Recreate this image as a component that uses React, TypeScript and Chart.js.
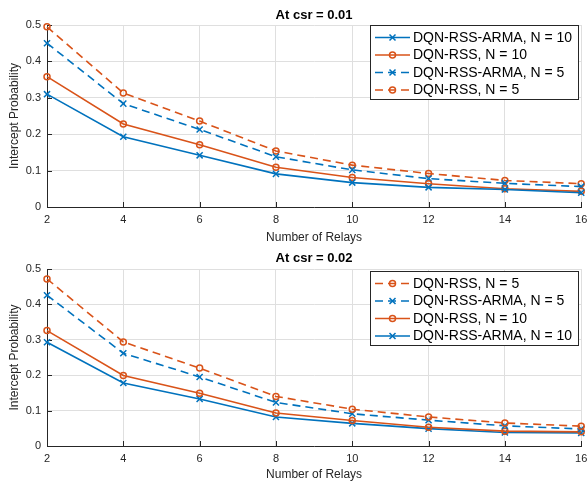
import React, { useEffect, useRef } from 'react';
import { Chart, registerables } from 'chart.js';
Chart.register(...registerables);

const relays = [2, 4, 6, 8, 10, 12, 14, 16];
const yTicks = [0, 0.1, 0.2, 0.3, 0.4, 0.5];

const topTitle = 'At csr = 0.01';
const top_armaN10 = [0.310, 0.193, 0.142, 0.091, 0.067, 0.054, 0.048, 0.039];
const top_rssN10 = [0.358, 0.228, 0.171, 0.109, 0.081, 0.064, 0.050, 0.043];
const top_armaN5 = [0.450, 0.284, 0.213, 0.138, 0.102, 0.078, 0.065, 0.056];
const top_rssN5 = [0.495, 0.313, 0.236, 0.154, 0.115, 0.092, 0.073, 0.064];

const botTitle = 'At csr = 0.02';
const bot_rssN5 = [0.472, 0.294, 0.220, 0.140, 0.104, 0.082, 0.065, 0.056];
const bot_armaN5 = [0.426, 0.262, 0.195, 0.123, 0.091, 0.073, 0.057, 0.048];
const bot_rssN10 = [0.326, 0.199, 0.149, 0.093, 0.072, 0.053, 0.042, 0.040];
const bot_armaN10 = [0.293, 0.178, 0.133, 0.082, 0.064, 0.049, 0.038, 0.037];

const xLabel = 'Number of Relays';
const yLabel = 'Intercept Probability';

const BLUE = '#0072BD';
const ORANGE = '#D95319';
const AXIS = '#262626';
const GRID = '#dfdfdf';
const FAMILY = '"Liberation Sans", Arial, Helvetica, sans-serif';

type Series = { label: string; values: number[]; color: string; dashed: boolean; marker: 'o' | 'x' };

const topSeries: Series[] = [
  { label: 'DQN-RSS-ARMA, N = 10', values: top_armaN10, color: BLUE, dashed: false, marker: 'x' },
  { label: 'DQN-RSS, N = 10', values: top_rssN10, color: ORANGE, dashed: false, marker: 'o' },
  { label: 'DQN-RSS-ARMA, N = 5', values: top_armaN5, color: BLUE, dashed: true, marker: 'x' },
  { label: 'DQN-RSS, N = 5', values: top_rssN5, color: ORANGE, dashed: true, marker: 'o' },
];

const botSeries: Series[] = [
  { label: 'DQN-RSS, N = 5', values: bot_rssN5, color: ORANGE, dashed: true, marker: 'o' },
  { label: 'DQN-RSS-ARMA, N = 5', values: bot_armaN5, color: BLUE, dashed: true, marker: 'x' },
  { label: 'DQN-RSS, N = 10', values: bot_rssN10, color: ORANGE, dashed: false, marker: 'o' },
  { label: 'DQN-RSS-ARMA, N = 10', values: bot_armaN10, color: BLUE, dashed: false, marker: 'x' },
];

const DASH = [8, 5];

function drawMarker(ctx: CanvasRenderingContext2D, kind: 'o' | 'x', x: number, y: number, color: string) {
  ctx.save();
  ctx.setLineDash([]);
  ctx.strokeStyle = color;
  ctx.lineWidth = 1.5;
  ctx.beginPath();
  if (kind === 'o') {
    ctx.arc(x, y, 3, 0, Math.PI * 2);
  } else {
    const d = 3;
    ctx.moveTo(x - d, y - d);
    ctx.lineTo(x + d, y + d);
    ctx.moveTo(x - d, y + d);
    ctx.lineTo(x + d, y - d);
  }
  ctx.stroke();
  ctx.restore();
}

type PanelProps = {
  height: number;
  chartTop: number;
  xAxisH: number;
  titleY: number;
  title: string;
  series: Series[];
  legendOffset: number;
};

function Panel({ height, chartTop, xAxisH, titleY, title, series, legendOffset }: PanelProps) {
  const ref = useRef<HTMLCanvasElement>(null);
  useEffect(() => {
    const canvas = ref.current!;
    const decor = {
      id: 'matlabDecor',
      beforeDatasetsDraw(chart: any) {
        const { ctx, chartArea } = chart;
        const xs = chart.scales.x;
        const ys = chart.scales.y;
        ctx.save();
        ctx.strokeStyle = AXIS;
        ctx.lineWidth = 1;
        ctx.beginPath();
        relays.forEach((v) => {
          const px = Math.round(xs.getPixelForValue(v)) + 0.5;
          ctx.moveTo(px, chartArea.bottom);
          ctx.lineTo(px, chartArea.bottom - 5);
        });
        yTicks.forEach((v) => {
          const py = Math.round(ys.getPixelForValue(v)) + 0.5;
          ctx.moveTo(chartArea.left, py);
          ctx.lineTo(chartArea.left + 5, py);
        });
        ctx.stroke();
        ctx.restore();
      },
      afterDraw(chart: any) {
        const { ctx, chartArea } = chart;
        ctx.save();
        // title
        ctx.fillStyle = '#000';
        ctx.font = `bold 13px ${FAMILY}`;
        ctx.textAlign = 'center';
        ctx.textBaseline = 'middle';
        ctx.fillText(title, (chartArea.left + chartArea.right) / 2, titleY);
        // legend
        ctx.font = `14px ${FAMILY}`;
        const maxW = Math.max(...series.map((s) => ctx.measureText(s.label).width));
        const rowH = 17.5;
        const boxW = Math.round(43 + maxW + 6);
        const boxH = 74;
        const right = Math.round(chartArea.right - 3);
        const left = right - boxW;
        const top = Math.round(chartArea.top + legendOffset);
        ctx.fillStyle = '#fff';
        ctx.fillRect(left, top, boxW, boxH);
        ctx.strokeStyle = AXIS;
        ctx.lineWidth = 1;
        ctx.strokeRect(left + 0.5, top + 0.5, boxW, boxH);
        series.forEach((s, i) => {
          const cy = top + 12.5 + rowH * i;
          ctx.save();
          ctx.strokeStyle = s.color;
          ctx.lineWidth = 1.5;
          ctx.setLineDash(s.dashed ? DASH : []);
          ctx.beginPath();
          ctx.moveTo(left + 5, cy);
          ctx.lineTo(left + 40, cy);
          ctx.stroke();
          ctx.restore();
          drawMarker(ctx, s.marker, left + 22.5, cy, s.color);
          ctx.fillStyle = '#000';
          ctx.textAlign = 'left';
          ctx.textBaseline = 'middle';
          ctx.fillText(s.label, left + 43, cy + 0.5);
        });
        ctx.restore();
      },
    };

    const chart = new Chart(canvas, {
      type: 'line',
      data: {
        datasets: series.map((s) => ({
          label: s.label,
          data: relays.map((x, i) => ({ x, y: s.values[i] })),
          borderColor: s.color,
          backgroundColor: 'rgba(0,0,0,0)',
          borderWidth: 1.6,
          borderDash: s.dashed ? DASH : [],
          pointStyle: s.marker === 'o' ? 'circle' : 'crossRot',
          pointRadius: s.marker === 'o' ? 3 : 4.3,
          pointBorderColor: s.color,
          pointBackgroundColor: 'rgba(0,0,0,0)',
          pointBorderWidth: 1.5,
          tension: 0,
          fill: false,
          clip: false,
        })),
      },
      options: {
        animation: false,
        responsive: false,
        devicePixelRatio: 1,
        layout: { padding: { left: 0, right: 5, top: chartTop, bottom: 0 } },
        plugins: { legend: { display: false }, tooltip: { enabled: false }, title: { display: false } },
        scales: {
          x: {
            type: 'linear',
            min: 2,
            max: 16,
            offset: false,
            afterBuildTicks: (s: any) => {
              s.ticks = relays.map((v) => ({ value: v }));
            },
            grid: { color: GRID, drawTicks: false, lineWidth: 1 },
            border: { display: true, color: AXIS, width: 1 },
            ticks: {
              padding: 6,
              color: AXIS,
              maxRotation: 0,
              autoSkip: false,
              font: { size: 11, family: FAMILY },
              callback: (v: any) => String(v),
            },
            title: {
              display: true,
              text: xLabel,
              color: AXIS,
              font: { size: 12, family: FAMILY },
              padding: { top: 0, bottom: 1 },
            },
            afterFit: (s: any) => {
              s.height = xAxisH;
              s.paddingLeft = 0;
              s.paddingRight = 0;
            },
          },
          y: {
            type: 'linear',
            min: 0,
            max: 0.5,
            afterBuildTicks: (s: any) => {
              s.ticks = yTicks.map((v) => ({ value: v }));
            },
            grid: { color: GRID, drawTicks: false, lineWidth: 1 },
            border: { display: true, color: AXIS, width: 1 },
            ticks: {
              padding: 6,
              color: AXIS,
              autoSkip: false,
              font: { size: 11, family: FAMILY },
              callback: (v: any) => String(+Number(v).toFixed(1)),
            },
            title: {
              display: true,
              text: yLabel,
              color: AXIS,
              font: { size: 12, family: FAMILY },
              padding: { top: 7, bottom: 0 },
            },
            afterFit: (s: any) => {
              s.width = 47;
              s.paddingTop = 0;
              s.paddingBottom = 0;
            },
          },
        },
      } as any,
      plugins: [decor],
    });
    return () => chart.destroy();
  }, []);
  return <canvas ref={ref} width={587} height={height} style={{ display: 'block', width: 587, height }} />;
}

export default function App() {
  return (
    <div style={{ position: 'absolute', left: 0, top: 0, width: 587, height: 483, background: '#fff' }}>
      <Panel height={246} chartTop={25} xAxisH={39} titleY={15} title={topTitle} series={topSeries} legendOffset={0} />
      <Panel height={237} chartTop={23} xAxisH={37} titleY={12.5} title={botTitle} series={botSeries} legendOffset={2} />
    </div>
  );
}
